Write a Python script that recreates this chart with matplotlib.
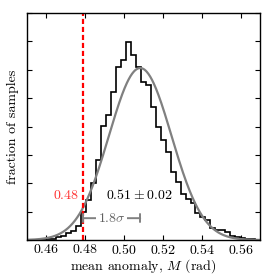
import numpy as np
import matplotlib
matplotlib.use('Agg')
import matplotlib.pyplot as plt

plt.rcParams['font.family'] = 'serif'
plt.rcParams['font.serif'] = ['cmr10', 'DejaVu Serif']
plt.rcParams['mathtext.fontset'] = 'cm'
plt.rcParams['axes.formatter.use_mathtext'] = True

# histogram of samples (bin width ~0.00256 rad)
bin_start = 0.4574
bin_width = 0.00256
counts = [0.02, 0.02, 0.05, 0.09, 0.14, 0.23, 0.33, 0.49,
          0.99, 1.41, 2.01, 2.82, 4.01, 4.40, 5.22, 6.09, 6.36,
          6.98,
          6.51, 6.10, 5.57, 5.46, 4.69, 3.99, 3.52, 3.11, 2.40,
          2.03, 1.62, 1.44, 1.29, 0.94, 0.82, 0.70, 0.41, 0.35,
          0.35, 0.29, 0.14, 0.10, 0.06, 0.04, 0.02]

# gaussian fit
fit_mean = 0.5083
fit_sigma = 0.0161
fit_peak = 6.06

observed = 0.4788
xticks = [0.46, 0.48, 0.50, 0.52, 0.54, 0.56]

edges = bin_start + bin_width * np.arange(len(counts) + 1)

fig = plt.figure(figsize=(2.74, 2.74), dpi=100)
ax = fig.add_axes([0.0985, 0.124, 0.8505, 0.8286])

ax.stairs(counts, edges, color='black', linewidth=1.2)

xs = np.linspace(0.45, 0.57, 400)
ax.plot(xs, fit_peak * np.exp(-0.5 * ((xs - fit_mean) / fit_sigma) ** 2),
        color='#808080', linewidth=1.6)

ax.axvline(observed, color='red', linewidth=1.6, linestyle=(0, (2.3, 1.3)))

ax.text(observed - 0.0022, 1.58, '$0.48$', color='#ff3030', fontsize=10,
        ha='right', va='center')
ax.text(0.5078, 1.58, r'$0.51 \pm 0.02$', color='black', fontsize=10,
        ha='center', va='center')

# 1.8 sigma bracket
ax.annotate('', xy=(observed, 0.77), xytext=(fit_mean, 0.77),
            arrowprops=dict(arrowstyle='|-|, widthA=0.3, widthB=0.3',
                            color='#808080', linewidth=1.4,
                            shrinkA=0, shrinkB=0))
ax.text((observed + fit_mean) / 2, 0.77, r'$1.8\sigma$', color='#606060',
        fontsize=10, ha='center', va='center',
        bbox=dict(facecolor='white', edgecolor='none', pad=1.0))

ax.set_xlim(0.45, 0.57)
ax.set_ylim(0, 8)
ax.set_xticks(xticks)
ax.set_xticklabels(['$%.2f$' % t for t in xticks])
ax.set_yticks(range(0, 9))
ax.set_yticklabels([])
ax.tick_params(direction='in', top=True, right=True, length=3.5,
               labelsize=10, pad=2)
for s in ax.spines.values():
    s.set_linewidth(1.0)

ax.set_xlabel(r'mean anomaly, $M$ (rad)', fontsize=10, labelpad=0.5)
ax.set_ylabel('fraction of samples', fontsize=10, labelpad=4)

fig.savefig('out.png', dpi=100)
